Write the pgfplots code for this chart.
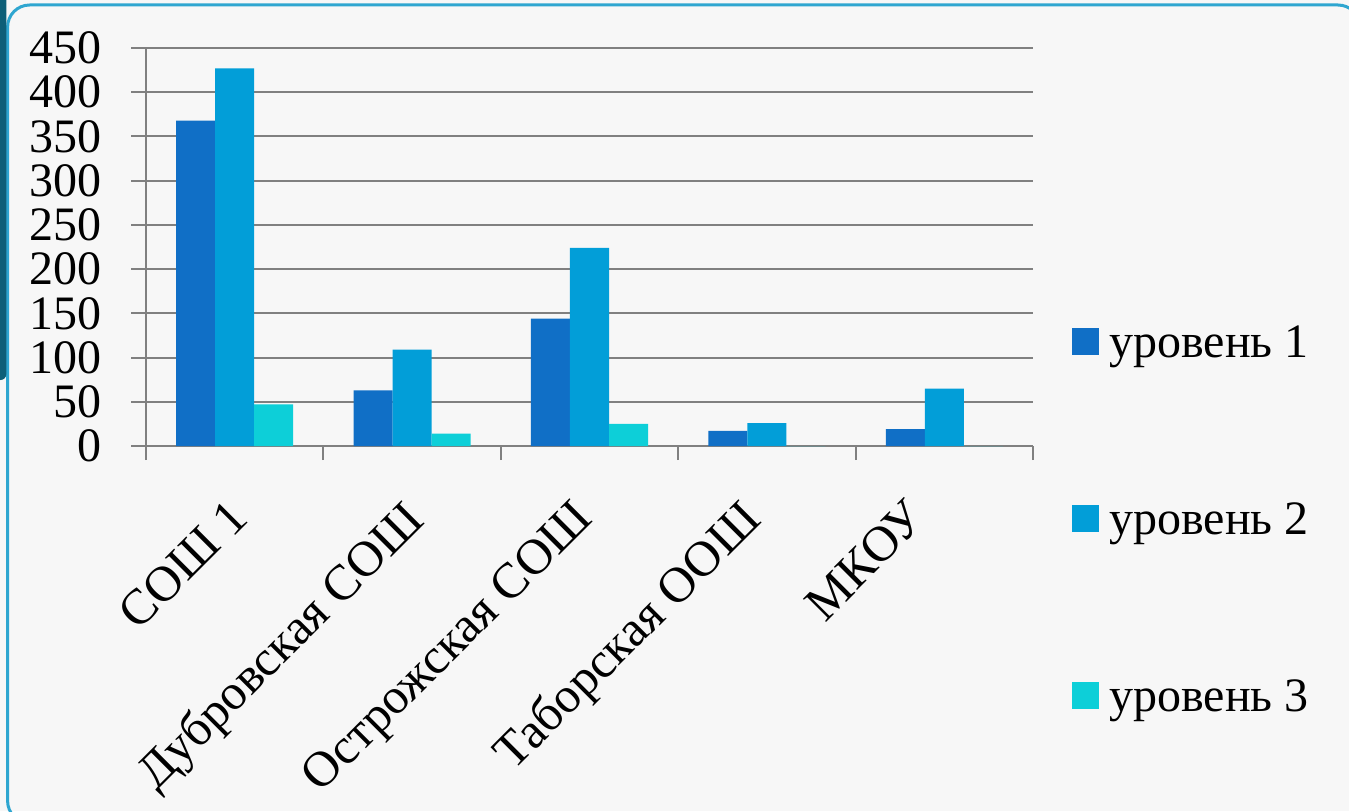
\documentclass[border=0pt]{standalone}
\usepackage{fontspec}
\setmainfont{Liberation Serif}
\usepackage{pgfplots}
\pgfplotsset{compat=1.18}
\definecolor{cA}{RGB}{16,111,198}
\definecolor{cB}{RGB}{2,158,216}
\definecolor{cC}{RGB}{13,207,216}
\definecolor{gridc}{RGB}{128,128,128}
\definecolor{bord}{RGB}{47,166,208}
\definecolor{stripe}{RGB}{14,95,120}
\definecolor{bg}{RGB}{247,247,247}
\pgfplotsset{sqleg/.style={legend image code/.code={\fill[##1,draw=none] (0pt,-6pt) rectangle (13.5pt,7.5pt);}}}
\begin{document}
\begin{tikzpicture}
\useasboundingbox (0,0) rectangle (674.5pt,405.5pt);
\fill[bg] (0,0) rectangle (674.5pt,405.5pt);
\draw[bord, line width=1.5pt, rounded corners=11pt] (3.8pt,-6pt) rectangle (680pt,403pt);
\fill[stripe, rounded corners=3pt] (-6pt,215.5pt) rectangle (3.2pt,412pt);
\begin{axis}[
  at={(73pt,182.5pt)}, anchor=south west, scale only axis,
  width=443.5pt, height=199pt,
  xmin=-0.5, xmax=4.5, ymin=0, ymax=450,
  ybar=0pt, bar width=0.22,
  axis lines*=left,
  axis line style={gridc, line width=1pt},
  ymajorgrids, grid style={gridc, line width=1pt},
  ytick={0,50,...,450},
  xtick={0,0.98,1.94,2.88,3.82},
  xticklabels={СОШ 1, Дубровская СОШ, Острожская СОШ, Таборская ООШ, МКОУ},
  minor xtick={-0.5,0.5,...,4.5},
  tick align=outside, major tick length=7.5pt, minor tick length=7pt,
  tick style={gridc, line width=1pt},
  major x tick style={draw=none},
  /pgf/number format/assume math mode=true,
  yticklabel style={font=\fontsize{24}{24}\selectfont, xshift=-11pt},
  xticklabel style={font=\fontsize{25}{25}\selectfont, xshift=-4pt, yshift=-13pt, rotate=45, anchor=north east},
  legend style={at={(1.044,-0.186)}, anchor=west, draw=none, fill=none,
    font=\fontsize{24}{24}\selectfont, row sep=69pt, inner sep=0pt,
    nodes={inner sep=1pt}, /tikz/column sep=4pt},
  legend cell align=left,
]
\addplot[fill=cA, draw=none, sqleg] coordinates {(0,368) (1,63) (2,144) (3,17) (4,19)};
\addplot[fill=cB, draw=none, sqleg] coordinates {(0,427) (1,109) (2,224) (3,26) (4,65)};
\addplot[fill=cC, draw=none, sqleg] coordinates {(0,47) (1,14) (2,25) (3,0) (4,0)};
\legend{уровень 1, уровень 2, уровень 3}
\end{axis}
\end{tikzpicture}
\end{document}
